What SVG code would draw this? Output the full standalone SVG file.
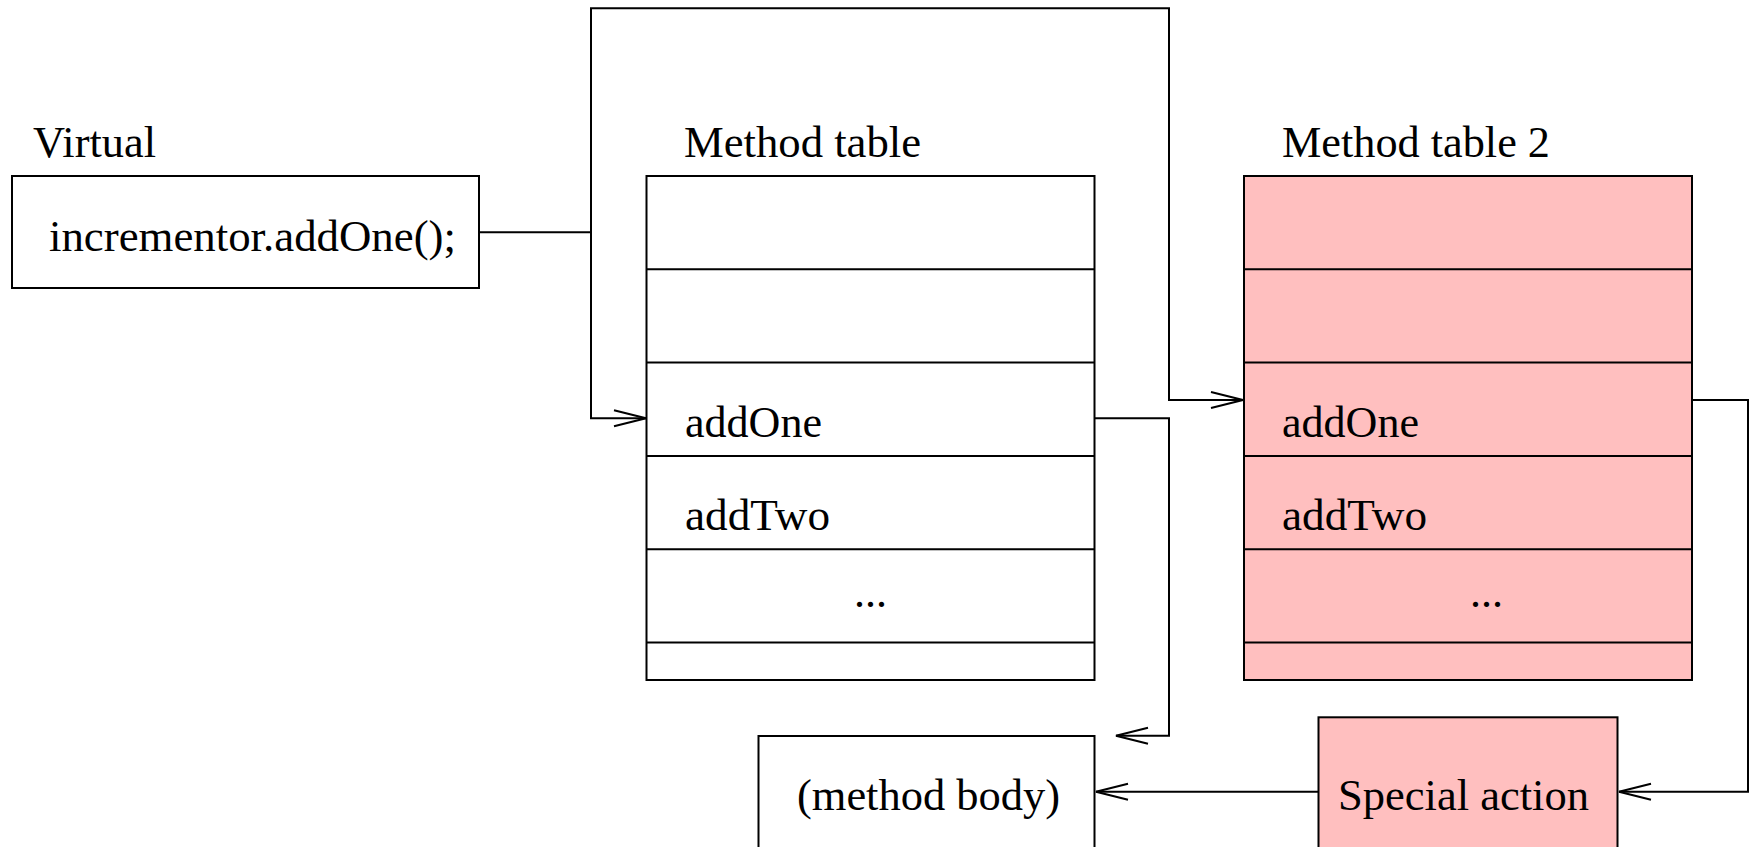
<svg xmlns="http://www.w3.org/2000/svg" width="1754" height="847" viewBox="0 0 1754 847">
  <style>
    .box { fill: #ffffff; stroke: #000000; stroke-width: 2; }
    .pink { fill: #ffbfbf; stroke: #000000; stroke-width: 2; }
    .div { stroke: #000000; stroke-width: 2; fill: none; }
    .wire { fill: none; stroke: #000000; stroke-width: 2; marker-end: url(#open); }
    text { font-family: "Liberation Serif", "Times New Roman", serif; font-size: 44px; fill: #000000; }
  </style>
  <defs>
    <marker id="open" markerUnits="userSpaceOnUse" markerWidth="40" markerHeight="22" viewBox="-36 -11 40 22" refX="0" refY="0" orient="auto" overflow="visible">
      <path d="M-32,-8 L0,0 L-32,8" fill="none" stroke="#000000" stroke-width="2"/>
    </marker>
  </defs>
  <rect width="1754" height="847" fill="#ffffff"/>

  <!-- call site -->
  <g id="virtual">
    <text x="33" y="157" textLength="123" lengthAdjust="spacingAndGlyphs">Virtual</text>
    <rect class="box" x="12" y="176" width="467" height="112"/>
    <text x="49" y="251" textLength="407" lengthAdjust="spacingAndGlyphs">incrementor.addOne();</text>
  </g>

  <!-- first method table -->
  <g id="method-table">
    <text x="684" y="157" textLength="237" lengthAdjust="spacingAndGlyphs">Method table</text>
    <rect class="box" x="646.5" y="176" width="448" height="504"/>
    <path class="div" d="M646.5,269.3 H1094.5 M646.5,362.6 H1094.5 M646.5,456 H1094.5 M646.5,549.3 H1094.5 M646.5,642.6 H1094.5"/>
    <text x="685" y="437" textLength="137" lengthAdjust="spacingAndGlyphs">addOne</text>
    <text x="685" y="530" textLength="145" lengthAdjust="spacingAndGlyphs">addTwo</text>
    <text x="854" y="607">...</text>
  </g>

  <!-- second method table -->
  <g id="method-table-2">
    <text x="1282" y="157" textLength="268" lengthAdjust="spacingAndGlyphs">Method table 2</text>
    <rect class="pink" x="1244" y="176" width="448" height="504"/>
    <path class="div" d="M1244,269.3 H1692 M1244,362.6 H1692 M1244,456 H1692 M1244,549.3 H1692 M1244,642.6 H1692"/>
    <text x="1282" y="437" textLength="137" lengthAdjust="spacingAndGlyphs">addOne</text>
    <text x="1282" y="530" textLength="145" lengthAdjust="spacingAndGlyphs">addTwo</text>
    <text x="1470" y="607">...</text>
  </g>

  <!-- target body -->
  <g id="method-body">
    <rect class="box" x="758.5" y="736" width="336" height="130"/>
    <text x="797" y="810" textLength="263" lengthAdjust="spacingAndGlyphs">(method body)</text>
  </g>

  <!-- interceptor -->
  <g id="special-action">
    <rect class="pink" x="1318.5" y="717.3" width="299" height="150"/>
    <text x="1338" y="810" textLength="251" lengthAdjust="spacingAndGlyphs">Special action</text>
  </g>

  <g id="connectors">
    <path class="wire" d="M479,232.3 H591 V418.3 H646"/>
    <path class="wire" d="M591,232.3 V8.3 H1169 V400 H1243"/>
    <path class="wire" d="M1094.5,418.3 H1169 V735.7 H1116"/>
    <path class="wire" d="M1692,400 H1748 V791.7 H1619"/>
    <path class="wire" d="M1318.5,791.7 H1096"/>
  </g>
</svg>
